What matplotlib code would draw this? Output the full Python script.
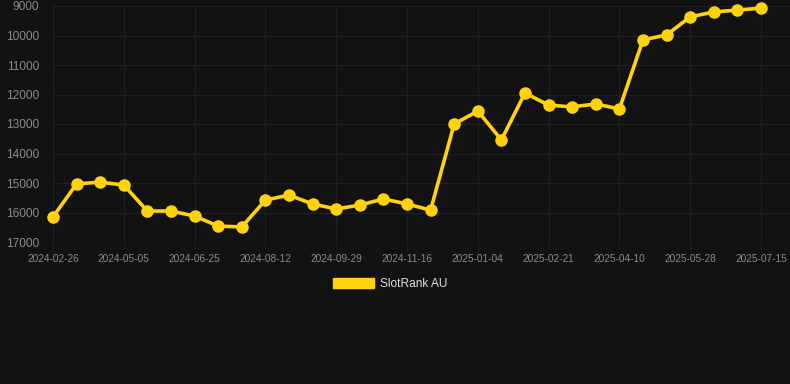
import matplotlib.pyplot as plt
from matplotlib.patches import Patch

dates = ['2024-02-26', '2024-03-13', '2024-04-19', '2024-05-05', '2024-05-21', '2024-06-08',
         '2024-06-25', '2024-07-10', '2024-07-27', '2024-08-12', '2024-08-28', '2024-09-13',
         '2024-09-29', '2024-10-15', '2024-10-31', '2024-11-16', '2024-12-02', '2024-12-19',
         '2025-01-04', '2025-01-20', '2025-02-05', '2025-02-21', '2025-03-09', '2025-03-25',
         '2025-04-10', '2025-04-26', '2025-05-12', '2025-05-28', '2025-06-13', '2025-06-29',
         '2025-07-15']
ranks = [16150, 15030, 14970, 15070, 15950, 15950, 16120, 16460, 16490, 15580, 15410,
         15710, 15880, 15750, 15540, 15710, 15920, 13000, 12560, 13540, 11950, 12360,
         12420, 12320, 12490, 10150, 9980, 9370, 9200, 9140, 9070]
series_name = 'SlotRank AU'

bg = '#121212'
gold = '#FFD20A'
grid = '#202020'
tick_col = '#8a8a8a'

plt.rcParams['font.family'] = ['Liberation Sans', 'DejaVu Sans']

fig = plt.figure(figsize=(7.9, 3.84), dpi=100, facecolor=bg)
ax = fig.add_axes([53 / 790, 1 - 242 / 384, 1 - 53 / 790, (242 - 6) / 384])
ax.set_facecolor(bg)

x = list(range(len(dates)))
ax.plot(x, ranks, color=gold, lw=2.6, marker='o', ms=8, mec=gold, mfc=gold, zorder=3,
        clip_on=False)

ax.set_ylim(17000, 9000)
ax.set_yticks(range(9000, 17001, 1000))
ax.set_xlim(0, 31.23)
ax.set_xticks(x[::3])
ax.set_xticklabels(dates[::3])

ax.grid(True, color=grid, lw=0.9)
for s in ax.spines.values():
    s.set_visible(False)
ax.tick_params(axis='y', length=0, pad=10, labelsize=8.6, labelcolor=tick_col)
ax.tick_params(axis='x', length=5, color=grid, pad=4, labelsize=7.3, labelcolor=tick_col)

handle = Patch(facecolor=gold, edgecolor=gold)
fig.legend([handle], [series_name], loc='center', bbox_to_anchor=(390 / 790, 1 - 284 / 384),
           frameon=False, fontsize=8.6, labelcolor='#dddddd', handlelength=3.4,
           handleheight=1.0, handletextpad=0.5)

fig.savefig('out.png', dpi=100, facecolor=bg)
